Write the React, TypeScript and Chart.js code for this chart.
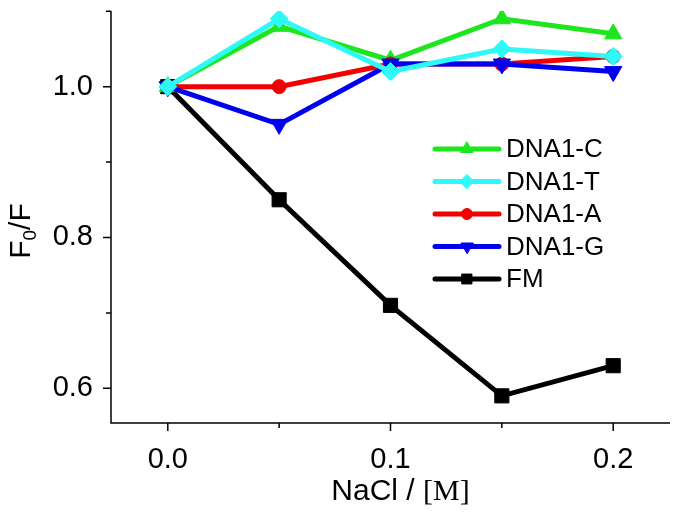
import React, { useEffect, useRef } from 'react';
import { Chart, registerables } from 'chart.js';
import { drawPoint } from 'chart.js/helpers';

Chart.register(...registerables);

const nacl = [0, 0.05, 0.1, 0.15, 0.2];
const dna1C = [1.0, 1.08, 1.035, 1.09, 1.07];
const dna1T = [1.0, 1.09, 1.02, 1.05, 1.04];
const dna1A = [1.0, 1.0, 1.03, 1.03, 1.04];
const dna1G = [1.0, 0.95, 1.03, 1.03, 1.02];
const fm = [1.0, 0.85, 0.71, 0.59, 0.63];

const xTicks = [0, 0.05, 0.1, 0.15, 0.2];
const xLabelled = [0, 0.1, 0.2];
const yTicks = [0.6, 0.7, 0.8, 0.9, 1.0, 1.1];
const yLabelled = [0.6, 0.8, 1.0];

const seriesNames = ['DNA1-C', 'DNA1-T', 'DNA1-A', 'DNA1-G', 'FM'];
const seriesValues = [dna1C, dna1T, dna1A, dna1G, fm];
const seriesColors = ['#1EE61E', '#2EF8F8', '#F00000', '#0000F0', '#000000'];
const seriesStyles = ['triangle', 'rectRot', 'circle', 'triangle', 'rect'];
const seriesRotation = [0, 0, 0, 180, 0];
const seriesRadius = [10, 9, 7, 10, 10];
const legendRadius = [7, 7, 5.5, 7, 7];
const seriesOrder = [3, 0, 2, 1, 4];

const SANS = '"Liberation Sans", Arial, sans-serif';
const SERIF = '"Liberation Serif", "Times New Roman", serif';

const isIn = (arr: number[], v: number) => arr.some((a) => Math.abs(a - v) < 1e-9);

const decorPlugin = {
  id: 'decor',
  afterDraw(chart: any) {
    const ctx = chart.ctx;
    const xs = chart.scales.x;
    const ys = chart.scales.y;
    const area = chart.chartArea;
    ctx.save();
    ctx.strokeStyle = '#000';
    ctx.lineWidth = 1.5;
    ctx.beginPath();
    ctx.moveTo(area.left, area.top);
    ctx.lineTo(area.left, area.bottom);
    ctx.lineTo(area.right, area.bottom);
    ctx.stroke();
    // ticks
    ctx.beginPath();
    xTicks.forEach((v) => {
      const px = xs.getPixelForValue(v);
      const len = isIn(xLabelled, v) ? 8 : 5;
      ctx.moveTo(px, area.bottom);
      ctx.lineTo(px, area.bottom + len);
    });
    yTicks.forEach((v) => {
      const py = ys.getPixelForValue(v);
      const len = isIn(yLabelled, v) ? 8 : 5;
      ctx.moveTo(area.left, py);
      ctx.lineTo(area.left - len, py);
    });
    ctx.stroke();

    // x title
    ctx.fillStyle = '#000';
    ctx.textBaseline = 'middle';
    ctx.textAlign = 'left';
    const p1 = 'NaCl / ';
    const p2 = '[M]';
    ctx.font = `30px ${SANS}`;
    const w1 = ctx.measureText(p1).width;
    ctx.font = `30px ${SERIF}`;
    const w2 = ctx.measureText(p2).width;
    const cx = (area.left + area.right) / 2 + 10;
    const startX = cx - (w1 + w2) / 2;
    const ty = 492;
    ctx.font = `30px ${SANS}`;
    ctx.fillText(p1, startX, ty);
    ctx.font = `30px ${SERIF}`;
    ctx.fillText(p2, startX + w1, ty);

    // y title
    ctx.save();
    ctx.translate(22, (area.top + area.bottom) / 2 + 14);
    ctx.rotate(-Math.PI / 2);
    ctx.font = `30px ${SANS}`;
    const fw = ctx.measureText('F').width;
    ctx.font = `19px ${SANS}`;
    const zw = ctx.measureText('0').width;
    ctx.font = `30px ${SANS}`;
    const sw = ctx.measureText('/F').width;
    let x0 = -(fw + zw + sw) / 2;
    ctx.textBaseline = 'middle';
    ctx.fillText('F', x0, 0);
    x0 += fw;
    ctx.font = `19px ${SANS}`;
    ctx.fillText('0', x0, 9);
    x0 += zw;
    ctx.font = `30px ${SANS}`;
    ctx.fillText('/F', x0, 0);
    ctx.restore();

    // legend
    const lx1 = 435;
    const lx2 = 499;
    const rows = [149, 181.5, 214, 246.5, 279];
    seriesNames.forEach((name, i) => {
      const y = rows[i];
      ctx.strokeStyle = seriesColors[i];
      ctx.lineWidth = 5;
      ctx.lineCap = 'round';
      ctx.beginPath();
      ctx.moveTo(lx1, y);
      ctx.lineTo(lx2, y);
      ctx.stroke();
      ctx.fillStyle = seriesColors[i];
      ctx.strokeStyle = seriesColors[i];
      ctx.lineWidth = 1;
      drawPoint(ctx, {
        pointStyle: seriesStyles[i],
        rotation: seriesRotation[i],
        radius: legendRadius[i],
        borderWidth: 1,
      }, (lx1 + lx2) / 2, y);
      ctx.fillStyle = '#000';
      ctx.font = `26px ${SANS}`;
      ctx.textAlign = 'left';
      ctx.textBaseline = 'middle';
      ctx.fillText(name, 506, y + 1);
    });
    ctx.restore();
  },
};

export default function App() {
  const ref = useRef<HTMLCanvasElement>(null);
  useEffect(() => {
    if (!ref.current) return;
    const datasets = seriesNames.map((name, i) => ({
      label: name,
      data: nacl.map((x, j) => ({ x, y: seriesValues[i][j] })),
      borderColor: seriesColors[i],
      backgroundColor: seriesColors[i],
      borderWidth: 5,
      pointStyle: seriesStyles[i],
      pointRotation: seriesRotation[i],
      pointRadius: seriesRadius[i],
      pointBorderWidth: 1,
      pointBorderColor: seriesColors[i],
      pointBackgroundColor: seriesColors[i],
      order: seriesOrder[i],
      tension: 0,
    }));
    const chart = new Chart(ref.current, {
      type: 'line',
      data: { datasets },
      plugins: [decorPlugin],
      options: {
        animation: false,
        responsive: false,
        devicePixelRatio: 1,
        layout: { padding: { top: 8, right: 9, left: 0, bottom: 0 } },
        plugins: { legend: { display: false }, tooltip: { enabled: false } },
        scales: {
          x: {
            type: 'linear',
            min: -0.0255,
            max: 0.2255,
            grid: { display: false },
            border: { display: false },
            afterBuildTicks: (s: any) => {
              s.ticks = xTicks.map((v) => ({ value: v }));
            },
            afterFit: (s: any) => {
              s.height = 89;
              s.paddingLeft = 0;
              s.paddingRight = 0;
            },
            ticks: {
              autoSkip: false,
              maxRotation: 0,
              padding: 12,
              color: '#000',
              font: { family: SANS, size: 29 },
              callback: (v: any) => (isIn(xLabelled, Number(v)) ? Number(v).toFixed(1) : ''),
            },
          },
          y: {
            type: 'linear',
            min: 0.554,
            max: 1.1003,
            grid: { display: false },
            border: { display: false },
            afterBuildTicks: (s: any) => {
              s.ticks = yTicks.map((v) => ({ value: v }));
            },
            afterFit: (s: any) => {
              s.width = 111;
              s.paddingTop = 0;
              s.paddingBottom = 0;
            },
            ticks: {
              autoSkip: false,
              padding: 10,
              color: '#000',
              font: { family: SANS, size: 29 },
              callback: (v: any) => (isIn(yLabelled, Number(v)) ? Number(v).toFixed(1) : ''),
            },
          },
        },
      },
    } as any);
    return () => chart.destroy();
  }, []);
  return (
    <div style={{ position: 'absolute', left: 0, top: 0, width: 681, height: 512, background: '#fff' }}>
      <canvas ref={ref} width={681} height={512} />
    </div>
  );
}
